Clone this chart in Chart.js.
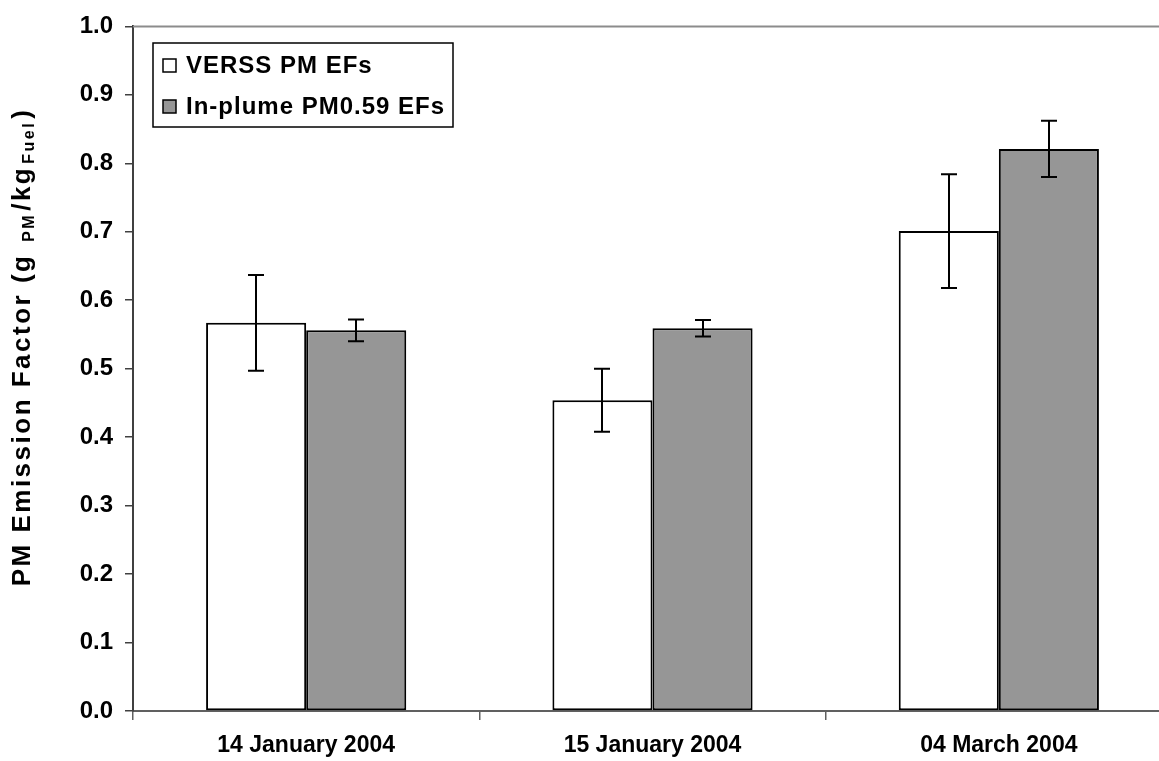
<!DOCTYPE html>
<html>
<head>
<meta charset="utf-8">
<script src="https://cdn.jsdelivr.net/npm/chart.js@4"></script>
<style>
  html, body { margin: 0; padding: 0; background: #fff; overflow: hidden; }
  #wrap { width: 1185px; height: 761px; }
</style>
</head>
<body>
<div id="wrap"><canvas id="chart" width="1185" height="761"></canvas></div>
<script>
// Données
const categories = ["14 January 2004", "15 January 2004", "04 March 2004"];
const verssValues = [0.567, 0.454, 0.701];
const verssErrors = [0.070, 0.046, 0.083];
const plumeValues = [0.556, 0.559, 0.821];
const plumeErrors = [0.016, 0.012, 0.041];
const seriesNames = ["VERSS PM EFs", "In-plume PM0.59 EFs"];

const FONT = "'Liberation Sans', Arial, sans-serif";

// Barres d'erreur (dessinées après les barres)
const errorBarPlugin = {
    id: "errorBars",
    afterDatasetsDraw(chart) {
        const ctx = chart.ctx;
        const yScale = chart.scales.y;
        const errs = [verssErrors, plumeErrors];
        ctx.save();
        ctx.strokeStyle = "#000";
        ctx.lineWidth = 2;
        chart.data.datasets.forEach((ds, i) => {
            const meta = chart.getDatasetMeta(i);
            meta.data.forEach((bar, j) => {
                const v = ds.data[j];
                const e = errs[i][j];
                const x = Math.round(bar.x);
                const yTop = yScale.getPixelForValue(v + e);
                const yBot = yScale.getPixelForValue(v - e);
                ctx.beginPath();
                ctx.moveTo(x, yTop); ctx.lineTo(x, yBot);
                ctx.moveTo(x - 8, yTop); ctx.lineTo(x + 8, yTop);
                ctx.moveTo(x - 8, yBot); ctx.lineTo(x + 8, yBot);
                ctx.stroke();
            });
        });
        ctx.restore();
    }
};

// Cadre du haut, titre vertical avec indices, légende encadrée
const decorPlugin = {
    id: "decor",
    afterDraw(chart) {
        const ctx = chart.ctx;
        const area = chart.chartArea;
        ctx.save();

        // bordure haute de la zone de tracé
        ctx.strokeStyle = "#8c8c8c";
        ctx.lineWidth = 2;
        ctx.beginPath();
        ctx.moveTo(area.left, area.top);
        ctx.lineTo(area.right, area.top);
        ctx.stroke();

        // titre de l'axe Y
        ctx.translate(30, 347);
        ctx.rotate(-Math.PI / 2);
        ctx.fillStyle = "#000";
        ctx.textBaseline = "alphabetic";
        ctx.letterSpacing = "2.5px";
        const parts = [
            { t: "PM Emission Factor (g ", sub: false },
            { t: "PM", sub: true },
            { t: "/kg", sub: false },
            { t: "Fuel", sub: true },
            { t: ")", sub: false }
        ];
        const big = "bold 26px " + FONT;
        const small = "bold 16px " + FONT;
        let total = 0;
        parts.forEach(p => {
            ctx.font = p.sub ? small : big;
            total += ctx.measureText(p.t).width + (p.sub ? 4 : 0);
        });
        let x = -total / 2;
        parts.forEach(p => {
            ctx.font = p.sub ? small : big;
            ctx.fillText(p.t, x + (p.sub ? 2 : 0), p.sub ? 4 : 0);
            x += ctx.measureText(p.t).width + (p.sub ? 4 : 0);
        });
        ctx.setTransform(1, 0, 0, 1, 0, 0);

        // légende
        const lx = 153, ly = 43, lw = 300, lh = 84;
        ctx.fillStyle = "#fff";
        ctx.fillRect(lx, ly, lw, lh);
        ctx.strokeStyle = "#000";
        ctx.lineWidth = 1.5;
        ctx.strokeRect(lx, ly, lw, lh);
        const fills = ["#ffffff", "#969696"];
        ctx.font = "bold 24px " + FONT;
        ctx.letterSpacing = "1px";
        ctx.textBaseline = "middle";
        seriesNames.forEach((name, i) => {
            const cy = ly + 22 + i * 41;
            ctx.fillStyle = fills[i];
            ctx.fillRect(163, cy - 6, 13, 13);
            ctx.lineWidth = 1.5;
            ctx.strokeRect(163, cy - 6, 13, 13);
            ctx.fillStyle = "#000";
            ctx.fillText(name, 186, cy + 1);
        });
        ctx.restore();
    }
};

new Chart(document.getElementById("chart"), {
    type: "bar",
    data: {
        labels: categories,
        datasets: [
            {
                label: seriesNames[0],
                data: verssValues,
                backgroundColor: "#ffffff",
                borderColor: "#000",
                borderWidth: 2,
                borderSkipped: false,
                categoryPercentage: 0.578,
                barPercentage: 1.0
            },
            {
                label: seriesNames[1],
                data: plumeValues,
                backgroundColor: "#969696",
                borderColor: "#000",
                borderWidth: 2,
                borderSkipped: false,
                categoryPercentage: 0.578,
                barPercentage: 1.0
            }
        ]
    },
    options: {
        responsive: false,
        animation: false,
        layout: { padding: { left: 0, right: 13, top: 24, bottom: 0 } },
        plugins: {
            legend: { display: false },
            tooltip: { enabled: false }
        },
        scales: {
            x: {
                afterFit: s => { s.height = 50; },
                grid: {
                    display: true,
                    drawOnChartArea: false,
                    drawTicks: true,
                    tickLength: 9,
                    color: "#606060",
                    lineWidth: 1.5
                },
                border: { display: true, color: "#606060", width: 2 },
                ticks: {
                    color: "#000",
                    padding: 12,
                    font: { family: FONT, size: 23, weight: "bold" }
                }
            },
            y: {
                min: 0,
                max: 1,
                afterFit: s => { s.width = 133; },
                grid: {
                    display: true,
                    drawOnChartArea: false,
                    drawTicks: true,
                    tickLength: 8,
                    color: "#404040",
                    lineWidth: 1.5
                },
                border: { display: true, color: "#404040", width: 2 },
                ticks: {
                    stepSize: 0.1,
                    color: "#000",
                    padding: 12,
                    font: { family: FONT, size: 24, weight: "bold" },
                    callback: v => v.toFixed(1)
                }
            }
        }
    },
    plugins: [errorBarPlugin, decorPlugin]
});
</script>
</body>
</html>
